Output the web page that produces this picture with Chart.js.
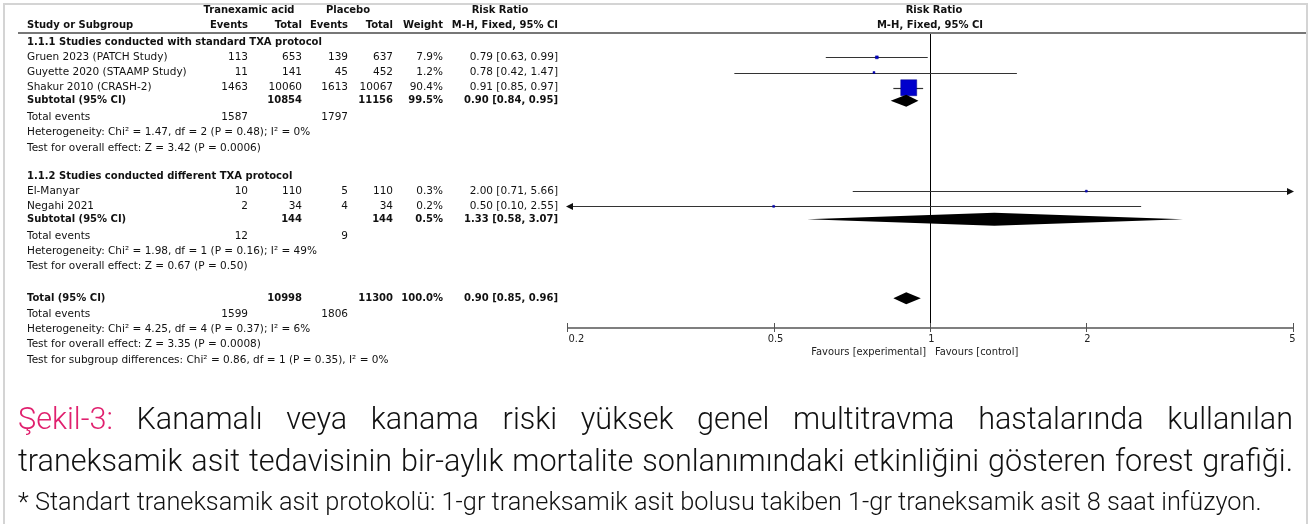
<!DOCTYPE html>
<html>
<head>
<meta charset="utf-8">
<title>Forest plot – traneksamik asit</title>
<script src="https://cdn.jsdelivr.net/npm/chart.js@4.4.1/dist/chart.umd.min.js"></script>
<style>
  html, body { margin: 0; padding: 0; background: #fff; }
  #wrap { position: relative; width: 1314px; height: 524px; }
  canvas { display: block; }
</style>
</head>
<body>
<div id="wrap"><canvas id="forest" width="1314" height="524"></canvas></div>
<script>
// ---- Study data ----
const studies     = ['Gruen 2023 (PATCH Study)', 'Guyette 2020 (STAAMP Study)', 'Shakur 2010 (CRASH-2)', 'El-Manyar', 'Negahi 2021'];
const studyGroup  = [0, 0, 0, 1, 1];
const txaEvents   = [113, 11, 1463, 10, 2];
const txaTotal    = [653, 141, 10060, 110, 34];
const plcEvents   = [139, 45, 1613, 5, 4];
const plcTotal    = [637, 452, 10067, 110, 34];
const weights     = [7.9, 1.2, 90.4, 0.3, 0.2];
const riskRatio   = [0.79, 0.78, 0.91, 2.00, 0.50];
const ciLow       = [0.63, 0.42, 0.85, 0.71, 0.10];
const ciHigh      = [0.99, 1.47, 0.97, 5.66, 2.55];

// ---- Subgroup summaries ----
const groupTitles    = ['1.1.1 Studies conducted with standard TXA protocol', '1.1.2 Studies conducted different TXA protocol'];
const subTxaTotal    = [10854, 144];
const subPlcTotal    = [11156, 144];
const subWeight      = [99.5, 0.5];
const subRR          = [0.90, 1.33];
const subLow         = [0.84, 0.58];
const subHigh        = [0.95, 3.07];
const subTxaEvents   = [1587, 12];
const subPlcEvents   = [1797, 9];
const subHetero      = ['Heterogeneity: Chi² = 1.47, df = 2 (P = 0.48); I² = 0%', 'Heterogeneity: Chi² = 1.98, df = 1 (P = 0.16); I² = 49%'];
const subOverall     = ['Test for overall effect: Z = 3.42 (P = 0.0006)', 'Test for overall effect: Z = 0.67 (P = 0.50)'];

// ---- Pooled total ----
const totTxaTotal  = [10998];
const totPlcTotal  = [11300];
const totWeight    = [100.0];
const totRR        = [0.90];
const totLow       = [0.85];
const totHigh      = [0.96];
const totTxaEvents = [1599];
const totPlcEvents = [1806];
const totNotes     = ['Heterogeneity: Chi² = 4.25, df = 4 (P = 0.37); I² = 6%',
                      'Test for overall effect: Z = 3.35 (P = 0.0008)',
                      'Test for subgroup differences: Chi² = 0.86, df = 1 (P = 0.35), I² = 0%'];

// ---- Axis ----
const axisTicks   = [0.2, 0.5, 1, 2, 5];
const axisLabels  = ['0.2', '0.5', '1', '2', '5'];
const favours     = ['Favours [experimental]', 'Favours [control]'];

// ---- Caption ----
const captionLead  = 'Şekil-3:';
const captionLine1 = 'Kanamalı veya kanama riski yüksek genel multitravma hastalarında kullanılan';
const captionLine2 = 'traneksamik asit tedavisinin bir-aylık mortalite sonlanımındaki etkinliğini gösteren forest grafiği.';
const captionNote  = '* Standart traneksamik asit protokolü: 1-gr traneksamik asit bolusu takiben 1-gr traneksamik asit 8 saat infüzyon.';

// ---- Row layout (in row units along the y scale) ----
const rows = (() => {
  const r = { title: [], study: [], sub: [], events: [], hetero: [], overall: [] };
  let v = 0.6;
  for (let g = 0; g < groupTitles.length; g++) {
    r.title.push(v);
    studies.forEach((s, i) => { if (studyGroup[i] === g) { v += 1; r.study[i] = v; } });
    v += 0.85; r.sub.push(v);
    v += 1.1;  r.events.push(v);
    v += 1.0;  r.hetero.push(v);
    v += 1.0;  r.overall.push(v);
    v += 1.85;
  }
  v += 0.25;
  r.total = v;
  r.totEvents = v + 1.05;
  r.notes = [v + 2.05, v + 3.05, v + 4.05];
  return r;
})();

const fmtPct = w => w.toFixed(1) + '%';
const fmtCI = (m, l, h) => `${m.toFixed(2)} [${l.toFixed(2)}, ${h.toFixed(2)}]`;

const TABLE_FONT = '"DejaVu Sans", Verdana, sans-serif';
const AXIS_FONT = '"Liberation Sans Narrow", "DejaVu Sans Condensed", "Roboto", sans-serif';
const CAPTION_FONT = 'Roboto, "Open Sans", sans-serif';

const forestPlugin = {
  id: 'forestPlot',
  beforeDatasetsDraw(chart) {
    const { ctx, scales: { x, y }, chartArea } = chart;
    const xMin = x.getPixelForValue(axisTicks[0]);
    const xMax = x.getPixelForValue(axisTicks[axisTicks.length - 1]);
    ctx.save();
    // line of no effect
    ctx.strokeStyle = '#000';
    ctx.lineWidth = 1;
    const x1 = Math.round(x.getPixelForValue(1)) + 0.5;
    ctx.beginPath();
    ctx.moveTo(x1, chartArea.top);
    ctx.lineTo(x1, chartArea.bottom);
    ctx.stroke();

    // confidence intervals
    studies.forEach((s, i) => {
      const py = Math.round(y.getPixelForValue(rows.study[i])) + 0.5;
      const lo = Math.max(ciLow[i], axisTicks[0]);
      const hi = Math.min(ciHigh[i], axisTicks[axisTicks.length - 1]);
      const pl = x.getPixelForValue(lo), ph = x.getPixelForValue(hi);
      ctx.strokeStyle = '#333';
      ctx.lineWidth = 1.2;
      ctx.beginPath();
      ctx.moveTo(pl, py);
      ctx.lineTo(ph, py);
      ctx.stroke();
      ctx.fillStyle = '#111';
      if (ciHigh[i] > axisTicks[axisTicks.length - 1]) {
        ctx.beginPath();
        ctx.moveTo(xMax + 1, py);
        ctx.lineTo(xMax - 6, py - 3.5);
        ctx.lineTo(xMax - 6, py + 3.5);
        ctx.closePath();
        ctx.fill();
      }
      if (ciLow[i] < axisTicks[0]) {
        ctx.beginPath();
        ctx.moveTo(xMin - 1, py);
        ctx.lineTo(xMin + 6, py - 3.5);
        ctx.lineTo(xMin + 6, py + 3.5);
        ctx.closePath();
        ctx.fill();
      }
    });
    ctx.restore();
  },
  afterDatasetsDraw(chart) {
    const { ctx, scales: { x, y }, chartArea } = chart;
    ctx.save();

    // summary diamonds
    const diamond = (m, l, h, v, half) => {
      const py = y.getPixelForValue(v);
      ctx.fillStyle = '#000';
      ctx.beginPath();
      ctx.moveTo(x.getPixelForValue(l), py);
      ctx.lineTo(x.getPixelForValue(m), py - half);
      ctx.lineTo(x.getPixelForValue(h), py);
      ctx.lineTo(x.getPixelForValue(m), py + half);
      ctx.closePath();
      ctx.fill();
    };
    subRR.forEach((m, g) => diamond(m, subLow[g], subHigh[g], rows.sub[g], g === 0 ? 6 : 6.5));
    diamond(totRR[0], totLow[0], totHigh[0], rows.total, 6);

    // horizontal axis
    const ay = chartArea.bottom;
    const xMin = x.getPixelForValue(axisTicks[0]);
    const xMax = x.getPixelForValue(axisTicks[axisTicks.length - 1]);
    ctx.strokeStyle = '#555';
    ctx.lineWidth = 1.5;
    ctx.beginPath();
    ctx.moveTo(xMin, ay);
    ctx.lineTo(xMax, ay);
    ctx.stroke();
    ctx.lineWidth = 1;
    ctx.font = `11px ${AXIS_FONT}`;
    ctx.fillStyle = '#222';
    ctx.textBaseline = 'middle';
    axisTicks.forEach((t, k) => {
      const px = Math.round(x.getPixelForValue(t)) + 0.5;
      ctx.beginPath();
      ctx.moveTo(px, ay - 5);
      ctx.lineTo(px, ay + 4);
      ctx.stroke();
      ctx.textAlign = k === 0 ? 'left' : (k === axisTicks.length - 1 ? 'right' : 'center');
      ctx.fillText(axisLabels[k], k === 0 ? px + 1 : (k === axisTicks.length - 1 ? px + 2 : px + 1), ay + 11);
    });
    const xc = x.getPixelForValue(1);
    ctx.textAlign = 'right';
    ctx.fillText(favours[0], xc - 4, ay + 24);
    ctx.textAlign = 'left';
    ctx.fillText(favours[1], xc + 5, ay + 24);

    // table text
    const col = { name: 27, te: 248, tt: 302, pe: 348, pt: 393, w: 443, ci: 558 };
    const txt = (s, px, v, align, bold, isPixel) => {
      ctx.font = bold ? `bold 10px ${TABLE_FONT}` : `10.5px ${TABLE_FONT}`;
      ctx.textAlign = align;
      ctx.fillStyle = '#111';
      ctx.fillText(s, px, isPixel ? v : y.getPixelForValue(v));
    };
    // header
    const h1 = 10, h2 = 25;
    txt('Tranexamic acid', col.te + 1, h1, 'center', true, true);
    txt('Placebo', col.pe, h1, 'center', true, true);
    txt('Risk Ratio', 500, h1, 'center', true, true);
    txt('Risk Ratio', xc + 4, h1, 'center', true, true);
    txt('Study or Subgroup', col.name, h2, 'left', true, true);
    txt('Events', col.te, h2, 'right', true, true);
    txt('Total', col.tt, h2, 'right', true, true);
    txt('Events', col.pe, h2, 'right', true, true);
    txt('Total', col.pt, h2, 'right', true, true);
    txt('Weight', col.w, h2, 'right', true, true);
    txt('M-H, Fixed, 95% CI', col.ci, h2, 'right', true, true);
    txt('M-H, Fixed, 95% CI', xc, h2, 'center', true, true);
    ctx.strokeStyle = '#777';
    ctx.lineWidth = 2;
    ctx.beginPath();
    ctx.moveTo(18, chartArea.top);
    ctx.lineTo(1306, chartArea.top);
    ctx.stroke();

    // body rows
    groupTitles.forEach((title, g) => {
      txt(title, col.name, rows.title[g], 'left', true);
      studies.forEach((s, i) => {
        if (studyGroup[i] !== g) return;
        const v = rows.study[i];
        txt(s, col.name, v, 'left', false);
        txt(String(txaEvents[i]), col.te, v, 'right', false);
        txt(String(txaTotal[i]), col.tt, v, 'right', false);
        txt(String(plcEvents[i]), col.pe, v, 'right', false);
        txt(String(plcTotal[i]), col.pt, v, 'right', false);
        txt(fmtPct(weights[i]), col.w, v, 'right', false);
        txt(fmtCI(riskRatio[i], ciLow[i], ciHigh[i]), col.ci, v, 'right', false);
      });
      txt('Subtotal (95% CI)', col.name, rows.sub[g], 'left', true);
      txt(String(subTxaTotal[g]), col.tt, rows.sub[g], 'right', true);
      txt(String(subPlcTotal[g]), col.pt, rows.sub[g], 'right', true);
      txt(fmtPct(subWeight[g]), col.w, rows.sub[g], 'right', true);
      txt(fmtCI(subRR[g], subLow[g], subHigh[g]), col.ci, rows.sub[g], 'right', true);
      txt('Total events', col.name, rows.events[g], 'left', false);
      txt(String(subTxaEvents[g]), col.te, rows.events[g], 'right', false);
      txt(String(subPlcEvents[g]), col.pe, rows.events[g], 'right', false);
      txt(subHetero[g], col.name, rows.hetero[g], 'left', false);
      txt(subOverall[g], col.name, rows.overall[g], 'left', false);
    });
    txt('Total (95% CI)', col.name, rows.total, 'left', true);
    txt(String(totTxaTotal[0]), col.tt, rows.total, 'right', true);
    txt(String(totPlcTotal[0]), col.pt, rows.total, 'right', true);
    txt(fmtPct(totWeight[0]), col.w, rows.total, 'right', true);
    txt(fmtCI(totRR[0], totLow[0], totHigh[0]), col.ci, rows.total, 'right', true);
    txt('Total events', col.name, rows.totEvents, 'left', false);
    txt(String(totTxaEvents[0]), col.te, rows.totEvents, 'right', false);
    txt(String(totPlcEvents[0]), col.pe, rows.totEvents, 'right', false);
    totNotes.forEach((n, k) => txt(n, col.name, rows.notes[k], 'left', false));

    // frame
    ctx.strokeStyle = '#d4d4d4';
    ctx.lineWidth = 2;
    ctx.beginPath();
    ctx.moveTo(4, 524);
    ctx.lineTo(4, 4);
    ctx.lineTo(1307, 4);
    ctx.lineTo(1307, 524);
    ctx.stroke();

    // caption
    const left = 18, right = 1293;
    const fitSize = (text, target, weight) => {
      ctx.font = `${weight} 24px ${CAPTION_FONT}`;
      return 24 * target / ctx.measureText(text).width;
    };
    const bigSize = fitSize(captionLine2, 1262, 300);
    const justify = (words, colors, py, size) => {
      ctx.font = `300 ${size}px ${CAPTION_FONT}`;
      const widths = words.map(w => ctx.measureText(w).width);
      const gap = (right - left - widths.reduce((a, b) => a + b, 0)) / (words.length - 1);
      let px = left;
      ctx.textAlign = 'left';
      words.forEach((w, k) => {
        ctx.fillStyle = colors[k];
        ctx.fillText(w, px, py);
        px += widths[k] + gap;
      });
    };
    ctx.textBaseline = 'middle';
    const w1 = [captionLead].concat(captionLine1.split(' '));
    justify(w1, w1.map((w, k) => k === 0 ? '#e0206e' : '#111'), 421, bigSize);
    const w2 = captionLine2.split(' ');
    justify(w2, w2.map(() => '#111'), 463, bigSize);
    const noteSize = fitSize(captionNote, 1244, 300);
    ctx.font = `300 ${noteSize}px ${CAPTION_FONT}`;
    ctx.fillStyle = '#111';
    ctx.textAlign = 'left';
    ctx.fillText(captionNote, left, 504);
    ctx.restore();
  }
};

// square side shrinks faster than linear weight share so the tiny studies stay small
const maxWeight = Math.max(...weights);
const squareRadius = c => Math.max(1.4, 11.3 * Math.pow(weights[c.dataIndex] / maxWeight, 0.7));

new Chart(document.getElementById('forest'), {
  type: 'scatter',
  data: {
    datasets: [{
      data: studies.map((s, i) => ({ x: riskRatio[i], y: rows.study[i] })),
      pointStyle: 'rect',
      pointRadius: squareRadius,
      pointHoverRadius: squareRadius,
      backgroundColor: '#0000cc',
      borderColor: '#00008a',
      borderWidth: 0.5
    }]
  },
  options: {
    responsive: false,
    animation: false,
    devicePixelRatio: 1,
    events: [],
    layout: { padding: { left: 567, right: 21, top: 33, bottom: 196 } },
    scales: {
      x: { type: 'logarithmic', min: 0.2, max: 5, display: false },
      y: { type: 'linear', min: 0, max: 19.4, reverse: true, display: false }
    },
    plugins: { legend: { display: false }, tooltip: { enabled: false } }
  },
  plugins: [forestPlugin]
});
</script>
</body>
</html>
